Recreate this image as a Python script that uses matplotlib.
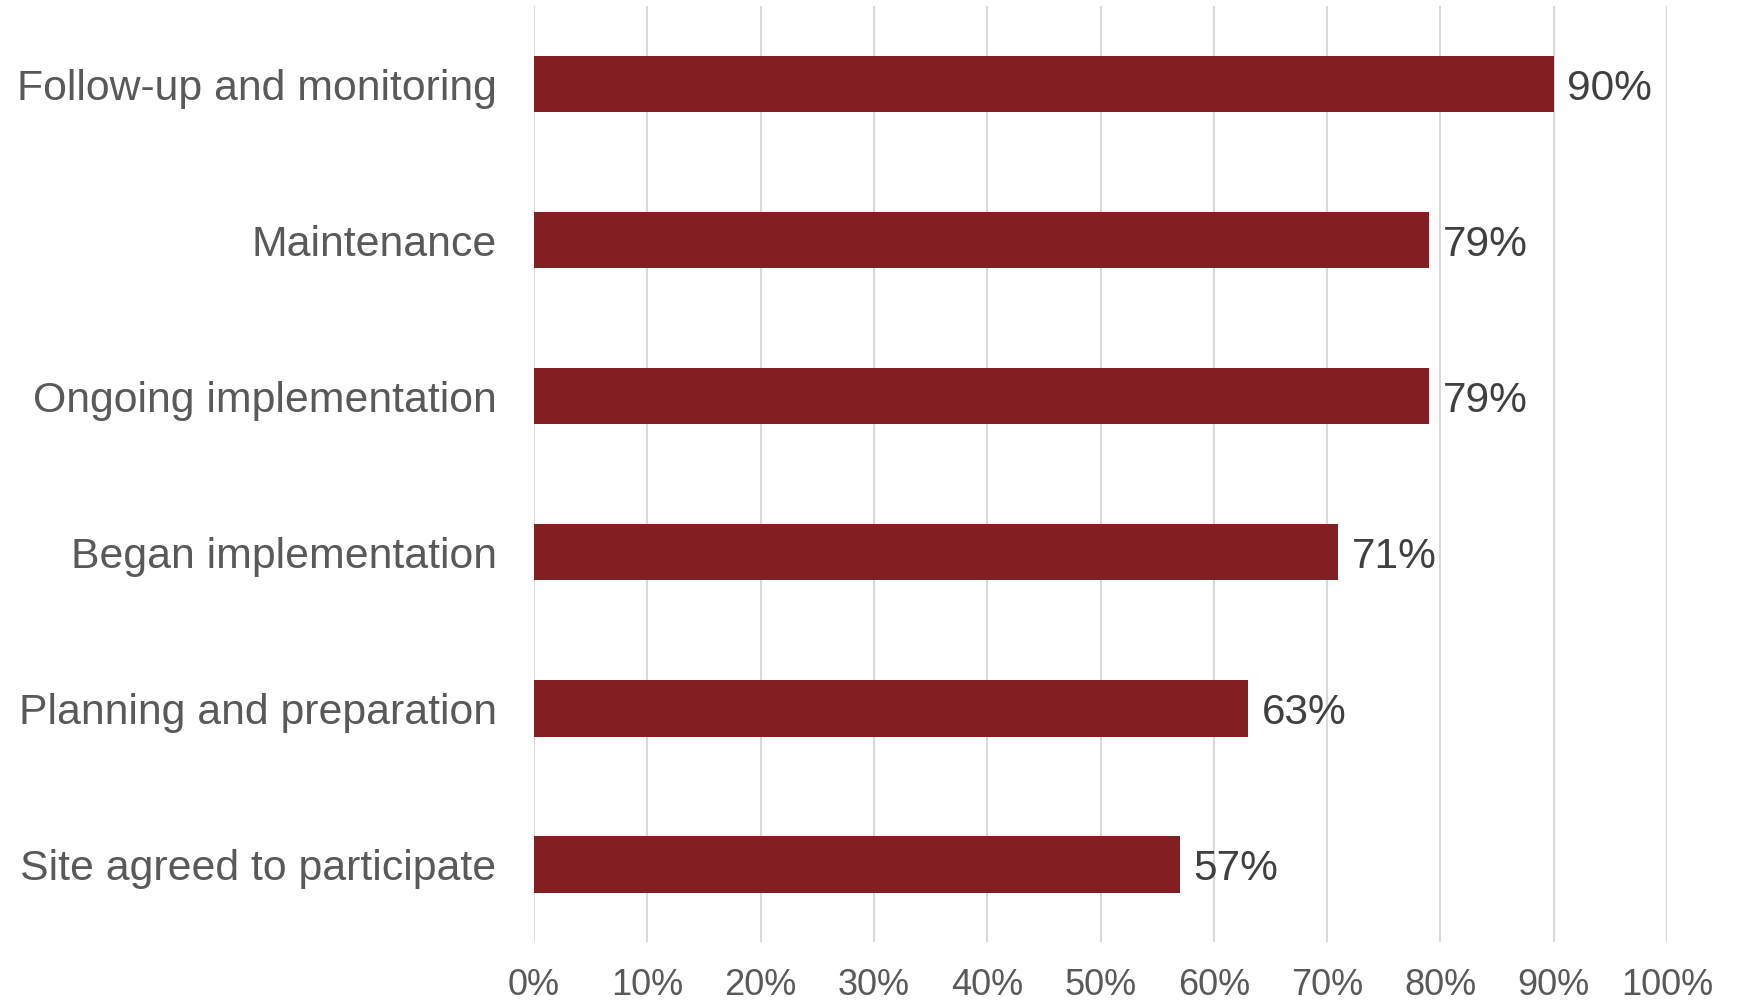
import matplotlib
matplotlib.use('Agg')
import matplotlib.pyplot as plt
from matplotlib.ticker import MultipleLocator, FuncFormatter

# stages, bottom to top
stages = ['Site agreed to participate', 'Planning and preparation',
          'Began implementation', 'Ongoing implementation',
          'Maintenance', 'Follow-up and monitoring']
pct = [57, 63, 71, 79, 79, 90]

plt.rcParams['font.family'] = ['Liberation Sans', 'DejaVu Sans']

fig = plt.figure(figsize=(17.4, 10.01), dpi=100)
ax = fig.add_axes([0.3069, 0.0589, 0.6512, 0.9351])

bars = ax.barh(stages, pct, height=0.365, color='#831E23', zorder=3)
for b, v in zip(bars, pct):
    ax.text(b.get_width() + 1.2, b.get_y() + b.get_height() / 2, f'{v}%',
            va='center_baseline', ha='left', fontsize=30.5, color='#404040')

ax.set_xlim(0, 100)
ax.set_ylim(-0.5, len(stages) - 0.5)
ax.xaxis.set_major_locator(MultipleLocator(10))
ax.xaxis.set_major_formatter(FuncFormatter(lambda x, _: f'{x:.0f}%'))
ax.grid(axis='x', color='#D9D9D9', linewidth=1.5, zorder=0)
for s in ax.spines.values():
    s.set_visible(False)
ax.tick_params(axis='x', length=0, pad=19, labelsize=26, labelcolor='#595959')
ax.tick_params(axis='y', length=0, pad=27, labelsize=30.8, labelcolor='#595959')
for lbl in ax.get_yticklabels():
    lbl.set_verticalalignment('center_baseline')

fig.savefig('out.png', dpi=100)
